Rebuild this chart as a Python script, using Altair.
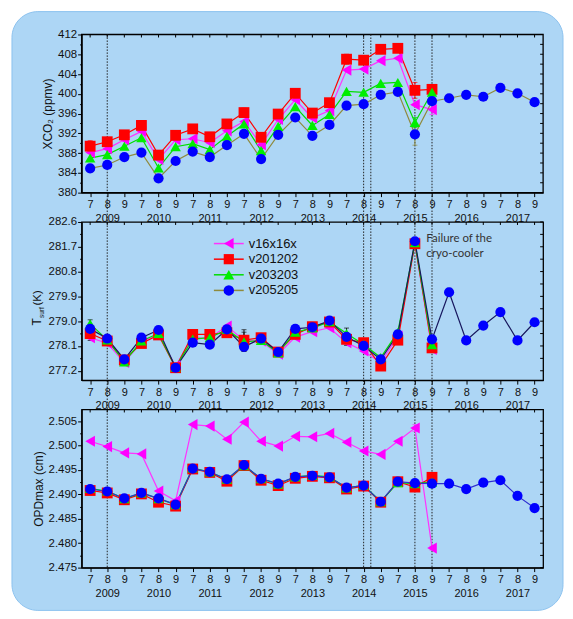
import altair as alt
import pandas as pd

# ---------------- data ----------------
SERIES = ["v16x16x", "v201202", "v203203", "v205205"]
YEARS = [2009, 2010, 2011, 2012, 2013, 2014, 2015, 2016, 2017]
MONTHS = [7, 8, 9]
EVENT_IDX = [1, 16, 16.42, 19, 20]          # dotted event lines (category index)

XCO2_V16 = [388.1, 388.9, 390.7, 392.4, 386.7, 390.7, 390.9, 390.1, 392.5, 394.4, 389.7,
            394.8, 398.8, 395.1, 396.6, 404.8, 405.0, 406.7, 407.2, 397.8, 396.8]
XCO2_V201 = [389.4, 390.3, 391.7, 393.6, 387.6, 391.6, 392.9, 391.3, 393.9, 396.2, 391.2,
             395.9, 400.1, 396.1, 398.2, 407.0, 406.8, 409.0, 409.2, 400.7, 400.9]
XCO2_V203 = [387.0, 387.7, 389.4, 391.1, 385.0, 389.3, 389.9, 388.7, 391.4, 393.9, 388.5,
             393.4, 397.4, 393.6, 395.8, 400.5, 400.3, 402.1, 402.3, 394.2, 400.3]
XCO2_V205 = [384.9, 385.6, 387.2, 388.1, 382.9, 386.4, 388.3, 387.2, 389.6, 391.9, 386.8,
             391.7, 395.2, 391.5, 393.7, 397.6, 397.9, 399.8, 400.4, 391.8, 398.5, 399.1,
             399.8, 399.4, 401.2, 400.1, 398.3]
XCO2_ERR = {"v201202": {0: 1.1, 3: 0.9, 9: 0.9, 15: 1.0, 19: 1.6, 20: 0.9},
            "v205205": {0: 0.8, 19: 2.2},
            "v16x16x": {20: 1.0},
            "v203203": {19: 1.0}}

T_V16 = [278.40, 278.20, 277.50, 278.25, 278.50, 277.38, 278.40, 278.38, 278.82, 278.30, 278.28,
         277.80, 278.42, 278.62, 278.76, 278.22, 277.92, 277.49, 278.46, 281.84, 277.97]
T_V201 = [278.55, 278.28, 277.59, 278.19, 278.50, 277.31, 278.52, 278.52, 278.58, 278.31, 278.40,
          277.88, 278.52, 278.80, 278.97, 278.34, 278.22, 277.37, 278.31, 281.81, 278.03]
T_V203 = [278.90, 278.32, 277.52, 278.28, 278.55, 277.33, 278.35, 278.40, 278.70, 278.25, 278.30,
          277.85, 278.60, 278.75, 278.98, 278.55, 278.15, 277.68, 278.60, 281.85, 278.15]
T_V205 = [278.72, 278.37, 277.61, 278.40, 278.68, 277.31, 278.22, 278.15, 278.70, 278.07, 278.37,
          277.88, 278.72, 278.78, 279.02, 278.43, 278.10, 277.61, 278.52, 281.90, 278.34, 280.05,
          278.30, 278.84, 279.33, 278.30, 278.96]
T_ERR = {"v205205": {0: 0.12, 3: 0.1, 9: 0.15, 13: 0.1, 20: 0.12, 21: 0.14, 24: 0.12, 26: 0.1},
         "v203203": {0: 0.15, 9: 0.35, 15: 0.2},
         "v201202": {1: 0.08, 2: 0.08, 9: 0.38, 15: 0.12, 20: 0.1},
         "v16x16x": {0: 0.1, 6: 0.1, 15: 0.1, 20: 0.1}}

OPD_V16 = [2.5009, 2.4998, 2.4985, 2.4983, 2.4907, 2.4887, 2.5043, 2.5040, 2.5013, 2.5048, 2.5009,
           2.4999, 2.5019, 2.5018, 2.5025, 2.5007, 2.4989, 2.4982, 2.5009, 2.5036, 2.4790]
OPD_V201 = [2.4908, 2.4903, 2.4889, 2.4901, 2.4884, 2.4876, 2.4952, 2.4945, 2.4927, 2.4959, 2.4929,
            2.4918, 2.4933, 2.4937, 2.4934, 2.4911, 2.4917, 2.4884, 2.4926, 2.4915, 2.4935]
OPD_V203 = [2.4912, 2.4907, 2.4891, 2.4903, 2.4891, 2.4879, 2.4954, 2.4946, 2.4931, 2.4959, 2.4932,
            2.4921, 2.4936, 2.4939, 2.4936, 2.4913, 2.4919, 2.4885, 2.4924, 2.4922, 2.4925]
OPD_V205 = [2.4911, 2.4906, 2.4892, 2.4903, 2.4892, 2.4879, 2.4953, 2.4946, 2.4931, 2.4960, 2.4932,
            2.4922, 2.4936, 2.4938, 2.4935, 2.4914, 2.4918, 2.4885, 2.4926, 2.4923, 2.4922, 2.4922,
            2.4911, 2.4924, 2.4929, 2.4897, 2.4872]
OPD_ERR = {"v201202": {19: 0.0008, 20: 0.0004},
           "v205205": {19: 0.0005},
           "v16x16x": {19: 0.0007, 20: 0.0004}}

NOTE_TEXT = ["Failure of the\n cryo-cooler"]

# ---------------- style ----------------
SHAPES = ["triangle-left", "square", "triangle-up", "circle"]
FILLS = ["#ff00ff", "#ff0000", "#00ee00", "#0000ff"]
SIZES = [125, 105, 120, 110]
LINE_TOP = ["#ff33ff", "#ff0000", "#00dd00", "#8f8a3c"]
LINE_MID = ["#ff33ff", "#ff0000", "#00dd00", "#17175e"]
LINE_BOT = ["#ff33ff", "#ff0000", "#00dd00", "#2f2fd0"]
LEGEND_LINES = ["#ff33ff", "#ff0000", "#00dd00", "#8f8a3c"]
BG = "#add6f5"
FONT = "Liberation Sans"
W, H = 464, 159
GAP = 29.5
XDOM = [-0.5, 26.5]


def long_df(vals, errs):
    rows = []
    for k, (s, arr) in enumerate(zip(SERIES, vals)):
        e = errs.get(s, {})
        for i, v in enumerate(arr):
            rows.append({"idx": i, "series": s, "value": v, "err": e.get(i, 0.0), "ord": k})
    return pd.DataFrame(rows)


def half_ticks(lo, hi, step, nd):
    n = int(round((hi - lo) / step))
    return [round(lo + k * step, nd) for k in range(n + 1)]


m_arr = "[" + ",".join("'%d'" % m for m in MONTHS) + "]"
y_arr = "[" + ",".join("'%d'" % y for y in YEARS) + "]"
X_LABEL_EXPR = ("datum.value % 3 == 1 ? [" + m_arr + "[1], " + y_arr + "[floor(datum.value / 3)]] : "
                + m_arr + "[datum.value % 3]")
X_VALUES = list(range(len(YEARS) * len(MONTHS)))

xs = alt.Scale(domain=XDOM, nice=False, zero=False)
fill_enc = alt.Fill("series:N", scale=alt.Scale(domain=SERIES, range=FILLS), legend=None)
shape_enc = alt.Shape("series:N", scale=alt.Scale(domain=SERIES, range=SHAPES), legend=None)
size_enc = alt.Size("series:N", scale=alt.Scale(domain=SERIES, range=SIZES), legend=None)
X_AXIS = alt.Axis(orient="bottom", values=X_VALUES, labelExpr=X_LABEL_EXPR, tickSize=4,
                  labelPadding=2, labelFontSize=11, labelLineHeight=14, labelFlush=False,
                  labelAngle=0, labelOverlap=False, title="", grid=False, domainWidth=1.3,
                  zindex=2)
XE = alt.X("idx:Q", scale=xs, axis=X_AXIS)


def panel(df, ydom, major0, step, ticks, fmt, title, line_colors, err_black=False,
          back=(), front=()):
    ys = alt.Scale(domain=ydom, nice=False, zero=False)
    test = ("abs((datum.value - %s) / %s - round((datum.value - %s) / %s)) < 0.01"
            % (major0, step, major0, step))
    y_axis = alt.Axis(orient="left", values=ticks,
                      labelExpr=test + " ? format(datum.value, '" + fmt + "') : ''",
                      tickSize={"condition": {"test": test, "value": 4}, "value": 2},
                      labelPadding=1, labelFontSize=11.5, labelFlush=False, labelOverlap=False,
                      title=title, titleFontSize=12, titlePadding=3,
                      grid=False, domainWidth=1.3, zindex=2)
    stroke_enc = alt.Stroke("series:N", scale=alt.Scale(domain=SERIES, range=line_colors),
                            legend=None)
    YE = alt.Y("value:Q", scale=ys, axis=y_axis)

    # inward ticks on the right and top edges
    rt = alt.Chart(pd.DataFrame({"value": ticks})).mark_rule(color="black", strokeWidth=1).encode(
        x=alt.value(W - 3), x2=alt.value(W), y=YE)
    tt = alt.Chart(pd.DataFrame({"idx": X_VALUES})).mark_rule(color="black", strokeWidth=1).encode(
        x=XE, y=alt.value(0), y2=alt.value(3))

    lines = alt.Chart(df).mark_line(strokeWidth=1.2).encode(
        x=XE, y=YE, stroke=stroke_enc, order="idx:Q")
    errbase = alt.Chart(df).transform_filter("datum.err > 0").transform_calculate(
        lo="datum.value - datum.err", hi="datum.value + datum.err")
    if err_black:
        err_rule = errbase.mark_rule(strokeWidth=1, color="#111").encode(
            x=XE, y=alt.Y("lo:Q", scale=ys, axis=y_axis), y2="hi:Q")
        err_caps = errbase.transform_fold(["lo", "hi"]).mark_tick(
            orient="horizontal", size=5, thickness=1, color="#111").encode(x=XE, y=YE)
    else:
        err_rule = errbase.mark_rule(strokeWidth=1).encode(
            x=XE, y=alt.Y("lo:Q", scale=ys, axis=y_axis), y2="hi:Q", stroke=stroke_enc)
        err_caps = errbase.transform_fold(["lo", "hi"]).mark_tick(
            orient="horizontal", size=5, thickness=1).encode(
            x=XE, y=YE,
            color=alt.Color("series:N", scale=alt.Scale(domain=SERIES, range=line_colors),
                            legend=None))
    points = alt.Chart(df).mark_point(filled=True, opacity=1, strokeWidth=0).encode(
        x=XE, y=YE, fill=fill_enc, shape=shape_enc, size=size_enc)
    layers = list(back) + [rt, tt, lines, err_rule, err_caps, points] + list(front)
    return alt.layer(*layers).properties(width=W, height=H)


df_top = long_df([XCO2_V16, XCO2_V201, XCO2_V203, XCO2_V205], XCO2_ERR)
df_mid = long_df([T_V16, T_V201, T_V203, T_V205], T_ERR)
df_bot = long_df([OPD_V16, OPD_V201, OPD_V203, OPD_V205], OPD_ERR)

one = pd.DataFrame({"k": [0]})
# decorative rounded frame + plot border + event lines (top panel, running through all panels)
frame = alt.Chart(one).mark_rect(cornerRadius=26, fill=BG, stroke="#8cc2ee", strokeWidth=1).encode(
    x=alt.value(-70), x2=alt.value(484), y=alt.value(-23), y2=alt.value(579))
border = alt.Chart(one).mark_rect(fillOpacity=0, stroke="black", strokeWidth=1.3).encode(
    x=alt.value(0), x2=alt.value(W), y=alt.value(0), y2=alt.value(H))
events = alt.Chart(pd.DataFrame({"idx": EVENT_IDX})).mark_rule(
    strokeDash=[1.5, 1.5], color="#222", strokeWidth=1).encode(
    x=XE, y=alt.value(0), y2=alt.value(3 * H + 2 * GAP))

top = panel(df_top, [380, 412], 380, 4, half_ticks(380, 412, 2, 0), ".0f", "XCO\u2082 (ppmv)",
            LINE_TOP, back=[frame, border, events])

# legend (middle panel), annotation and axis title with subscript
legend_layers = []
for k, s in enumerate(SERIES):
    ly = 21.7 + 15.7 * k
    lone = pd.DataFrame({"series": [s]})
    legend_layers.append(alt.Chart(lone).mark_rule(strokeWidth=1.5, color=LEGEND_LINES[k]).encode(
        x=alt.value(133), x2=alt.value(163), y=alt.value(ly)))
    legend_layers.append(alt.Chart(lone).mark_point(
        filled=True, opacity=1, strokeWidth=0, shape=SHAPES[k], fill=FILLS[k],
        size=SIZES[k]).encode(x=alt.value(148), y=alt.value(ly)))
    legend_layers.append(alt.Chart(lone).mark_text(
        align="left", baseline="middle", font=FONT, fontSize=13, color="#111").encode(
        x=alt.value(168), y=alt.value(ly), text="series:N"))

note_df = pd.DataFrame({"t": NOTE_TEXT, "idx": [19.67]})
note = alt.Chart(note_df).mark_text(
    align="left", baseline="middle", lineBreak="\n", font="Lato", fontSize=11.5,
    color="#333", lineHeight=15).encode(x=XE, y=alt.value(17), text="t:N")
ttl_T = alt.Chart(pd.DataFrame({"t": ["T"]})).mark_text(
    angle=270, align="left", baseline="alphabetic", font=FONT, fontSize=12, color="#111").encode(
    x=alt.value(-40.5), y=alt.value(104), text="t:N")
ttl_s = alt.Chart(pd.DataFrame({"t": ["surf"]})).mark_text(
    angle=270, align="left", baseline="alphabetic", font=FONT, fontSize=6.5, color="#111").encode(
    x=alt.value(-38), y=alt.value(96.5), text="t:N")
ttl_K = alt.Chart(pd.DataFrame({"t": ["(K)"]})).mark_text(
    angle=270, align="left", baseline="alphabetic", font=FONT, fontSize=11.5, color="#111").encode(
    x=alt.value(-40.5), y=alt.value(84), text="t:N")

mid = panel(df_mid, [276.86, 282.6], 277.2, 0.9, half_ticks(277.2, 282.6, 0.45, 2), ".1f", "",
            LINE_MID, err_black=True, front=[note] + legend_layers + [ttl_T, ttl_s, ttl_K])

bot = panel(df_bot, [2.475, 2.5074], 2.475, 0.005, half_ticks(2.475, 2.505, 0.0025, 4), ".3f",
            "OPDmax (cm)", LINE_BOT)

chart = alt.vconcat(top, mid, bot, spacing=GAP, bounds="flush").resolve_scale(
    x="independent", y="independent", stroke="independent", fill="independent",
    shape="independent", size="independent", color="independent"
).properties(
    background="white", padding={"left": 2, "top": 0, "right": 0, "bottom": 0}
).configure_view(stroke="black", strokeWidth=1.3).configure_axis(
    labelFont=FONT, titleFont=FONT, labelColor="#111", titleColor="#111",
    domainColor="black", tickColor="black", titleFontWeight="normal")

chart.save("out.html", embed_options={"renderer": "svg", "actions": False})
